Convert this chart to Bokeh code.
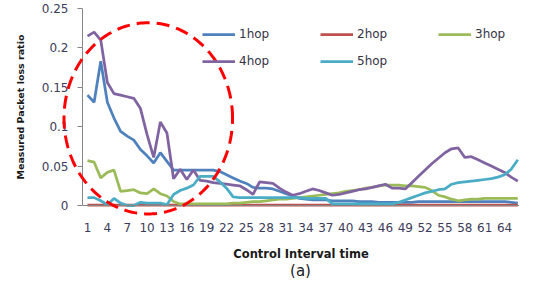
import numpy as np
from bokeh.plotting import figure
from bokeh.models import (FixedTicker, Legend, LegendItem, PolyAnnotation, Label,
                          Range1d, NumeralTickFormatter)
from bokeh.embed import file_html
from bokeh.resources import INLINE

# ---------------- data ----------------
intervals = list(range(1, 67))

hop1 = [0.140, 0.131, 0.183, 0.131, 0.111, 0.094, 0.088, 0.083, 0.071, 0.063,
        0.054, 0.067, 0.056, 0.045, 0.045, 0.045, 0.045, 0.045, 0.045, 0.045,
        0.043, 0.039, 0.035, 0.031, 0.028, 0.023, 0.022, 0.022, 0.021, 0.018,
        0.015, 0.012, 0.009, 0.008, 0.007, 0.007, 0.007, 0.006, 0.006, 0.006,
        0.006, 0.005, 0.005, 0.005, 0.004, 0.004, 0.004, 0.004, 0.004, 0.004,
        0.005, 0.005, 0.005, 0.005, 0.005, 0.005, 0.005, 0.005, 0.005, 0.005,
        0.005, 0.005, 0.005, 0.005, 0.004, 0.003]

hop2 = [0.0005, 0.0005, 0.0005, 0.0005, 0.0005, 0.0005, 0.0005, 0.0005, 0.0005, 0.0005,
        0.0005, 0.0005, 0.0005, 0.0005, 0.0005, 0.0005, 0.0005, 0.0005, 0.0005, 0.0005,
        0.0005, 0.0005, 0.0005, 0.0005, 0.0005, 0.0005, 0.0005, 0.0005, 0.0005, 0.0005,
        0.0005, 0.0005, 0.0005, 0.0005, 0.0005, 0.0005, 0.0005, 0.0005, 0.0005, 0.0005,
        0.0005, 0.0005, 0.0005, 0.0005, 0.0005, 0.0005, 0.0005, 0.0005, 0.0005, 0.0005,
        0.0005, 0.0005, 0.0005, 0.0005, 0.0005, 0.0005, 0.0005, 0.0005, 0.0005, 0.0005,
        0.0005, 0.0005, 0.0005, 0.0005, 0.0005, 0.0005]

hop3 = [0.057, 0.055, 0.035, 0.042, 0.045, 0.018, 0.019, 0.020, 0.016, 0.015,
        0.021, 0.015, 0.012, 0.005, 0.002, 0.002, 0.002, 0.002, 0.002, 0.002,
        0.002, 0.002, 0.003, 0.003, 0.004, 0.005, 0.005, 0.006, 0.007, 0.008,
        0.008, 0.009, 0.010, 0.011, 0.012, 0.013, 0.014, 0.015, 0.016, 0.018,
        0.019, 0.020, 0.022, 0.023, 0.025, 0.026, 0.026, 0.026, 0.025, 0.025,
        0.024, 0.023, 0.019, 0.013, 0.011, 0.008, 0.006, 0.007, 0.008, 0.008,
        0.009, 0.009, 0.009, 0.009, 0.009, 0.009]

hop4 = [0.215, 0.220, 0.210, 0.156, 0.142, 0.140, 0.138, 0.136, 0.123, 0.090,
        0.061, 0.106, 0.092, 0.034, 0.046, 0.033, 0.045, 0.032, 0.031, 0.029,
        0.028, 0.027, 0.026, 0.025, 0.020, 0.014, 0.030, 0.029, 0.028, 0.022,
        0.017, 0.013, 0.015, 0.018, 0.021, 0.019, 0.016, 0.013, 0.014, 0.016,
        0.018, 0.020, 0.021, 0.023, 0.025, 0.027, 0.022, 0.022, 0.021, 0.029,
        0.037, 0.045, 0.053, 0.060, 0.067, 0.072, 0.073, 0.061, 0.062, 0.058,
        0.054, 0.050, 0.046, 0.042, 0.036, 0.031]

hop5 = [0.010, 0.010, 0.006, 0.001, 0.009, 0.003, 0.000, 0.000, 0.004, 0.003,
        0.003, 0.003, 0.001, 0.014, 0.019, 0.022, 0.026, 0.037, 0.037, 0.037,
        0.030, 0.022, 0.011, 0.010, 0.010, 0.010, 0.010, 0.010, 0.010, 0.010,
        0.010, 0.010, 0.010, 0.009, 0.009, 0.009, 0.009, 0.002, 0.002, 0.002,
        0.002, 0.002, 0.002, 0.002, 0.002, 0.002, 0.002, 0.004, 0.007, 0.010,
        0.013, 0.016, 0.018, 0.020, 0.021, 0.027, 0.029, 0.030, 0.031, 0.032,
        0.033, 0.034, 0.036, 0.039, 0.046, 0.058]

series_names = ["1hop", "2hop", "3hop", "4hop", "5hop"]
series_values = [hop1, hop2, hop3, hop4, hop5]
series_colors = ["#4F81BD", "#C0504D", "#9BBB59", "#8064A2", "#4BACC6"]

x_ticks = [1, 4, 7, 10, 13, 16, 19, 22, 25, 28, 31, 34, 37, 40, 43, 46, 49, 52, 55, 58, 61, 64]
y_ticks = [0, 0.05, 0.1, 0.15, 0.2, 0.25]
y_tick_labels = ["0", "0.05", "0.1", "0.15", "0.2", "0.25"]

# highlighted region (dashed ellipse): centre and half-axes in data units
ell_cx, ell_cy, ell_rx, ell_ry = 10.18, 0.1106, 12.73, 0.1213

# ---------------- layout geometry (pixels) ----------------
W, H = 519, 278
PX_X1 = 87.0        # pixel of interval 1
PX_PER_X = 6.62     # pixels per interval
PX_Y0 = 205.0       # pixel of y = 0
PX_PER_Y = 788.0    # pixels per unit of y
AXIS_X = 0.2447     # data x where the y axis sits
x_lo = 1 - PX_X1 / PX_PER_X
x_hi = 1 + (W - PX_X1) / PX_PER_X
y_lo = -(H - PX_Y0) / PX_PER_Y
y_hi = PX_Y0 / PX_PER_Y

p = figure(width=W, height=H, output_backend="svg", toolbar_location=None,
           x_range=Range1d(x_lo, x_hi), y_range=Range1d(y_lo, y_hi),
           min_border_left=0, min_border_right=0, min_border_top=0,
           min_border_bottom=0)
p.outline_line_color = None
p.xgrid.visible = False
p.ygrid.visible = False
p.background_fill_color = "white"
p.border_fill_color = "white"

tick_color = "#3c3c5a"
axis_gray = "#868686"

# x axis (drawn at y = 0 inside the frame so the ellipse is not clipped)
p.xaxis.fixed_location = 0
p.xaxis.bounds = (AXIS_X, x_hi)
p.xaxis.ticker = FixedTicker(ticks=x_ticks)
p.xaxis.axis_line_color = axis_gray
p.xaxis.major_tick_line_color = None
p.xaxis.minor_tick_line_color = None
p.xaxis.major_label_standoff = 11
p.xaxis.major_label_text_font = "DejaVu Sans"
p.xaxis.major_label_text_font_size = "12px"
p.xaxis.major_label_text_color = tick_color
p.xaxis.axis_label = "Control Interval time"
p.xaxis.axis_label_text_font = "DejaVu Sans"
p.xaxis.axis_label_text_font_style = "bold"
p.xaxis.axis_label_text_font_size = "11.5px"
p.xaxis.axis_label_text_color = "#1a1a1a"
p.xaxis.axis_label_standoff = 12

# y axis
p.yaxis.fixed_location = AXIS_X
p.yaxis.bounds = (0, 0.25)
p.yaxis.ticker = FixedTicker(ticks=y_ticks)
p.yaxis.formatter = NumeralTickFormatter(format="0.[00]")
p.yaxis.major_label_overrides = {t: l for t, l in zip(y_ticks, y_tick_labels)}
p.yaxis.axis_line_color = axis_gray
p.yaxis.major_tick_line_color = axis_gray
p.yaxis.major_tick_out = 5
p.yaxis.major_tick_in = 0
p.yaxis.minor_tick_line_color = None
p.yaxis.major_label_standoff = 9
p.yaxis.major_label_text_font = "DejaVu Sans"
p.yaxis.major_label_text_font_size = "12px"
p.yaxis.major_label_text_color = tick_color
p.yaxis.axis_label = "Measured Packet loss ratio"
p.yaxis.axis_label_text_font = "DejaVu Sans"
p.yaxis.axis_label_text_font_style = "bold"
p.yaxis.axis_label_text_font_size = "9.5px"
p.yaxis.axis_label_text_color = "#1a1a1a"
p.yaxis.axis_label_standoff = 13

# lines
items = []
for name, vals, col in zip(series_names, series_values, series_colors):
    r = p.line(x=intervals, y=vals, line_color=col, line_width=2.75)
    items.append(LegendItem(label=name, renderers=[r]))

legend = Legend(items=items, location=(202, 204), orientation="horizontal", ncols=3,
                glyph_width=33, glyph_height=20, label_standoff=4, label_width=81,
                label_height=27, spacing=0, padding=0, margin=0,
                border_line_color=None, background_fill_alpha=0,
                label_text_font="DejaVu Sans", label_text_font_size="12px",
                label_text_color="#333344")
p.add_layout(legend)

# dashed red ellipse
theta = np.linspace(0, 2 * np.pi, 240)
ell = PolyAnnotation(xs=list(ell_cx + ell_rx * np.cos(theta)),
                     ys=list(ell_cy + ell_ry * np.sin(theta)),
                     fill_alpha=0, line_color="#FF0000", line_alpha=1.0,
                     line_width=3, line_dash="13 7")
p.add_layout(ell)

# caption
p.add_layout(Label(x=300, y=8, x_units="screen", y_units="screen", text="(a)",
                   text_font="DejaVu Sans", text_font_size="15px",
                   text_color="#1a1a1a", text_align="center",
                   text_baseline="middle"))

open("out.html", "w").write(file_html(p, INLINE))
